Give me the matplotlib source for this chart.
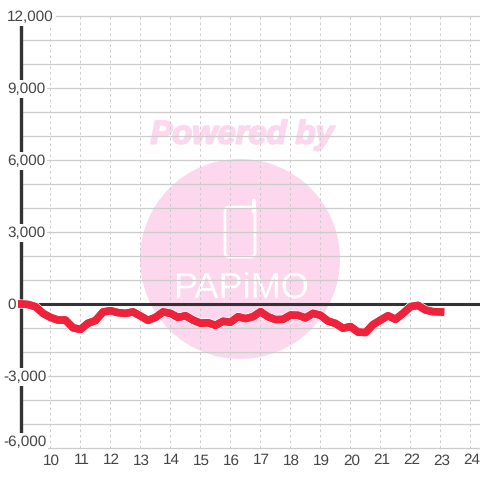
import matplotlib
matplotlib.use("Agg")
import matplotlib.pyplot as plt
import matplotlib.patheffects as pe
from matplotlib.patches import Circle, FancyBboxPatch
from matplotlib.transforms import ScaledTranslation

plt.rcParams["font.family"] = ["Liberation Sans", "DejaVu Sans"]
plt.rcParams["text.hinting"] = "no_hinting"

HOURS = [9 + i * 0.25 for i in range(57)]
VALUES = [
    0, -20, -110, -390, -560, -670, -670, -990, -1060, -800, -690, -330,
    -280, -360, -390, -330, -500, -680, -560, -330, -390, -560, -490, -670,
    -800, -780, -890, -720, -760, -530, -610, -530, -320, -530, -650, -640,
    -460, -470, -580, -390, -470, -710, -810, -1010, -940, -1170, -1190, -860,
    -670, -490, -640, -390, -110, -60, -250, -320, -330,
]
X_TICKS = list(range(10, 25))
Y_GRID = list(range(-6000, 12001, 1000))
Y_LABELS = [12000, 9000, 6000, 3000, 0, -3000, -6000]

DARK = "#333333"
GRID = "#cccccc"
RED = "#ee223a"
PINK = "#fcd7ee"

W = H = 480
fig = plt.figure(figsize=(W / 100, H / 100), dpi=100, facecolor="white")
ax = fig.add_axes([20.5 / W, (H - 448) / H, 459.5 / W, 432 / H])
ax.set_xlim(9, 24.317)
ax.set_ylim(-6000, 12000)
for s in ax.spines.values():
    s.set_visible(False)
ax.set_axisbelow(True)

# watermark, placed in figure pixels
ov = fig.add_axes([0, 0, 1, 1], zorder=-1)
ov.set_xlim(0, W)
ov.set_ylim(H, 0)
ov.axis("off")
ax.patch.set_alpha(0)
ov.add_patch(Circle((240, 259), 100, fc=PINK, ec="none"))
ov.text(242, 135, "Powered by", color=PINK, fontsize=23.5, fontweight="bold",
        fontstyle="italic", ha="center", va="center",
        path_effects=[pe.withStroke(linewidth=1.4, foreground=PINK)])
ov.add_patch(FancyBboxPatch((225, 207), 30, 50, boxstyle="round,pad=0,rounding_size=4",
                            fc="none", ec="white", lw=2))
ov.plot([254, 254], [212, 201], color="white", lw=3, solid_capstyle="round")
ov.text(241, 288, "PAPiMO", color="white", fontsize=26, ha="center", va="center")

ax.set_xticks(X_TICKS)
ax.set_yticks(Y_GRID)
ax.set_yticklabels([])
ax.grid(axis="y", color=GRID, lw=0.9, clip_on=False)
ax.grid(axis="x", color=GRID, lw=0.72, ls=(0, (2.5, 3)))
ax.tick_params(length=0, labelsize=11, labelcolor="#444444", pad=4)
shift = ScaledTranslation(1 / 100, 0, fig.dpi_scale_trans)
for t in ax.get_xticklabels():
    t.set_transform(t.get_transform() + shift)

ax.axhline(0, color=DARK, lw=2.2, zorder=3)
ax.axvline(9, color=DARK, lw=2.4, zorder=3, clip_on=False)
ax.plot(HOURS, VALUES, color=RED, lw=5.4, zorder=4, solid_joinstyle="round",
        solid_capstyle="projecting", clip_on=False,
        path_effects=[pe.withStroke(linewidth=6.6, foreground="white"), pe.Normal()])

for v in Y_LABELS:
    dx = -17.5 if v < 0 else -13.5
    dy = 5.5 if v == -6000 else -1
    ax.annotate(f"{v:,}", xy=(9, v), xytext=(dx, dy), textcoords="offset pixels",
                ha="left", va="center", fontsize=11, color="#444444", zorder=6,
                annotation_clip=False,
                bbox=dict(fc="white", ec="none", pad=1.5))

fig.savefig("out.png", dpi=100)
